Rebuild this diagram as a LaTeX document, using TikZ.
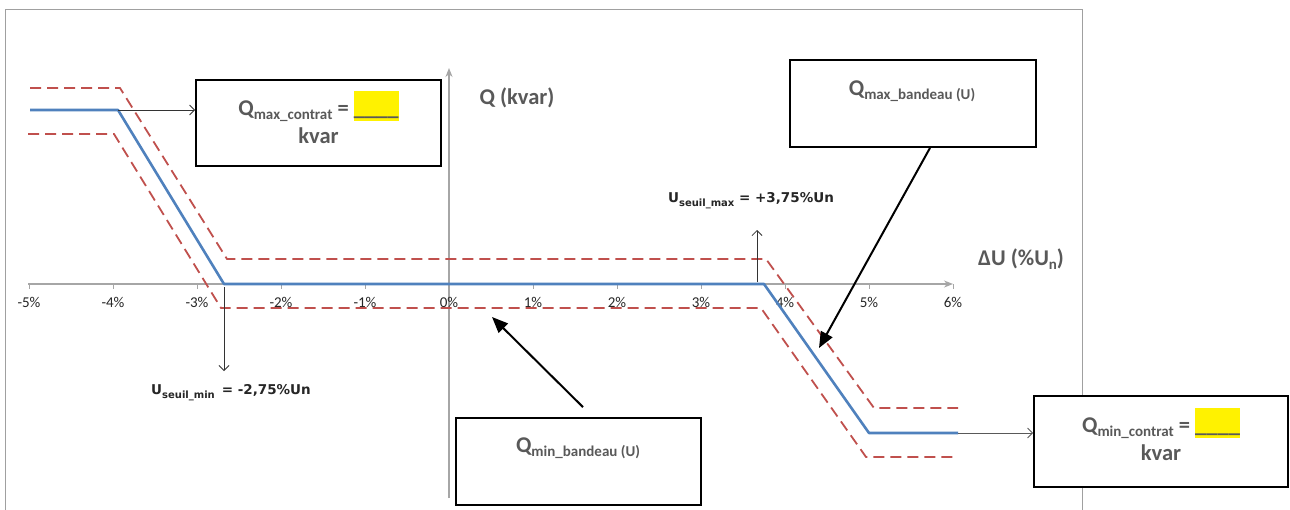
\documentclass[tikz,border=0pt]{standalone}
\usepackage{fontspec}
\setmainfont{Carlito}
\newfontfamily\thrfont{DejaVu Sans}
\usetikzlibrary{arrows.meta}
\definecolor{txtgray}{HTML}{595959}
\definecolor{axgray}{HTML}{A6A6A6}
\definecolor{framegray}{HTML}{A0A0A0}
\definecolor{xlblue}{HTML}{4F81BD}
\definecolor{xlred}{HTML}{C0504D}
\newcommand{\fsz}[1]{\fontsize{#1}{#1}\selectfont}
\newcommand{\lowsub}[2]{\raisebox{-4pt}{\fsz{#1}#2}}
\newcommand{\yblank}{\smash{\setlength{\fboxsep}{0pt}\colorbox{yellow}{\rule[-6pt]{0pt}{30pt}\_\_\_\_}}}
\begin{document}
\begin{tikzpicture}[x=1pt,y=-1pt,
  axis/.style={draw=axgray, line width=1.3pt},
  axtip/.style={-{Stealth[length=9pt,width=7pt]}},
  curve/.style={draw=xlblue, line width=2.6pt, line join=round},
  band/.style={draw=xlred, line width=1.8pt, dash pattern=on 11pt off 6pt},
  callout/.style={draw=black, line width=1.8pt, fill=white, inner sep=0pt},
  ptr/.style={draw=black, line width=2pt, -{Triangle[length=16pt,width=13pt]}},
  thinarr/.style={draw=black!80, line width=0.8pt, -{Straight Barb[length=5pt,width=10pt]}},
  ticklbl/.style={font=\fsz{15}, text=black!85},
  lbl/.style={font=\fontsize{22.5}{28}\selectfont\bfseries, text=txtgray, align=center},
  thr/.style={font=\thrfont\fsz{13.5}\bfseries, text=black!85}
]
\useasboundingbox (0,0) rectangle (1290,509);
\fill[white] (0,0) rectangle (1290,509);
% chart frame
\draw[framegray, line width=1pt] (5,530) -- (5,9) -- (1082,9) -- (1082,530);

% axes
\coordinate (xs) at (28,284);
\coordinate (xe) at (953,284);
\coordinate (ys) at (449,498);
\coordinate (ye) at (449,68);
\draw[axis, axtip] (xs) -- (xe);
\draw[axis, axtip] (ys) -- (ye);
\foreach \i in {-5,...,6} {
  \draw[axgray, line width=1pt] (449+84*\i,284) -- (449+84*\i,289);
  \node[ticklbl] (t\i) at (449+84*\i,302) {\i\%};
}
\node[lbl] (qlab) at (517,98) {Q (kvar)};
\node[lbl] (ulab) at (1021,259) {ΔU (\%U\lowsub{15}{n})};

% band and curve
\draw[band] (30,88) -- (120,88) -- (227,259) -- (766,259) -- (874,408) -- (958,408);
\draw[band] (28,134) -- (114,134) -- (221,308) -- (761,308) -- (866,457) -- (958,457);
\coordinate (c1) at (118,110);
\coordinate (cmin) at (224,284);
\coordinate (cmax) at (764,284);
\coordinate (c2) at (958,433);
\draw[curve] (30,110) -- (c1) -- (cmin) -- (cmax) -- (869,433) -- (c2);

% callout boxes
\node[callout, minimum width=245pt, minimum height=86pt] (b1) at (318.5,123) {};
\node[lbl] (b1t) at (318.5,122) {Q\lowsub{15}{max\_contrat} = \yblank\\ kvar};
\node[callout, minimum width=246pt, minimum height=87pt] (b2) at (913,103.5) {};
\node[lbl] (b2t) at (912,91) {Q\lowsub{15}{max\_bandeau (U)}};
\node[callout, minimum width=245pt, minimum height=87pt] (b3) at (578.5,461.5) {};
\node[lbl] (b3t) at (578,448) {Q\lowsub{15}{min\_bandeau (U)}};
\node[callout, minimum width=254pt, minimum height=91pt] (b4) at (1161,441.5) {};
\node[lbl] (b4t) at (1161,439) {Q\lowsub{15}{min\_contrat} = \yblank\\ kvar};

% thin arrows
\draw[thinarr] (c1) -- (b1.west |- c1);
\draw[thinarr, draw=black!65] (c2) -- (b4.west |- c2);
\coordinate (tminA) at (224,287);
\coordinate (tminB) at (224,371);
\draw[thinarr] (tminA) -- (tminB);
\coordinate (tmaxA) at (757,282);
\coordinate (tmaxB) at (757,230);
\draw[thinarr] (tmaxA) -- (tmaxB);
\node[thr] (umin) at (231,393) {U\lowsub{10}{seuil\_min}\, = -2,75\%Un};
\node[thr] (umax) at (751,201) {U\lowsub{10}{seuil\_max} = +3,75\%Un};

% thick pointers
\coordinate (p2) at (819,348);
\coordinate (p3) at (492,317);
\draw[ptr] ([xshift=17pt]b2.south) -- (p2);
\draw[ptr] ([shift={(4.5,-10)}]b3.north) -- (p3);
\end{tikzpicture}
\end{document}
